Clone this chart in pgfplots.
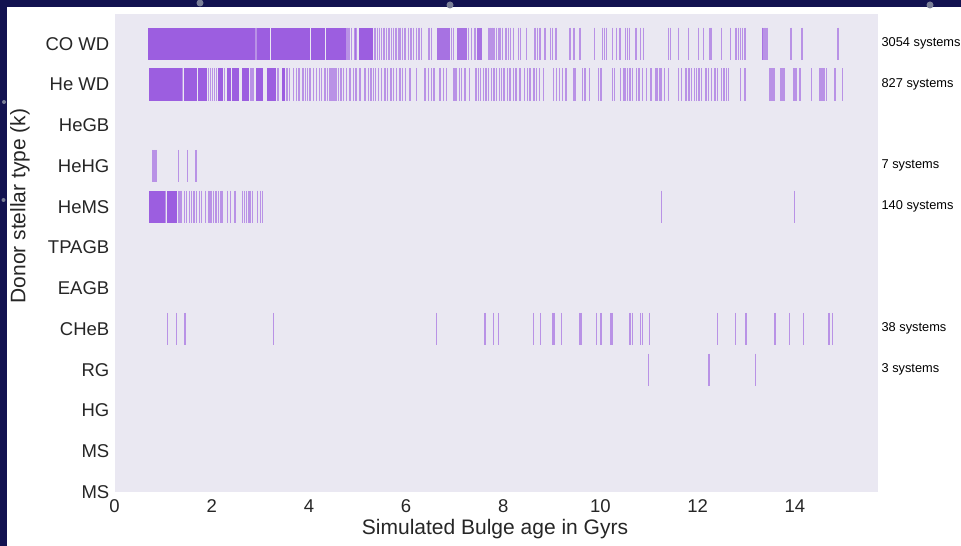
\documentclass[border=0pt]{standalone}
\usepackage{pgfplots}
\pgfplotsset{compat=1.18}
\usepackage{fontspec}
\setmainfont{Liberation Sans}
\definecolor{purp}{RGB}{156,94,224}
\definecolor{bgcol}{RGB}{234,232,242}
\definecolor{txtcol}{RGB}{38,38,38}
\definecolor{navy}{RGB}{18,18,80}
\definecolor{star}{RGB}{120,125,150}
\pgfplotsset{
  band/.style={draw=none, fill=purp},
  lband/.style={draw=none, fill=purp, fill opacity=0.85},
  ev/.style={only marks, mark=|, mark size=16.3pt, mark options={draw=purp, line width=1.4pt, opacity=0.62}},
}
\newcommand{\band}[4]{\addplot[band] coordinates {(#1,#3) (#2,#3) (#2,#4) (#1,#4)};}
\newcommand{\lband}[4]{\addplot[lband] coordinates {(#1,#3) (#2,#3) (#2,#4) (#1,#4)};}
\begin{document}
\begin{tikzpicture}
\useasboundingbox (0,0) rectangle (961pt,546pt);
\fill[navy] (0,0) rectangle (961pt,546pt);
\fill[white] (7pt,0) rectangle (961pt,538.5pt);
\fill[star] (200pt,543pt) circle (3.5pt);
\fill[star] (450pt,541pt) circle (3.5pt);
\fill[star] (930pt,541pt) circle (3.5pt);
\fill[star] (3.5pt,346pt) circle (2pt);
\fill[star] (4pt,444pt) circle (2pt);
\begin{axis}[
  at={(114.5pt,54pt)}, anchor=south west,
  width=763.5pt, height=478pt, scale only axis,
  xmin=0, xmax=15.71, ymin=0, ymax=11.736,
  axis background/.style={fill=bgcol},
  axis line style={draw=none},
  major tick length=0pt,
  xtick={0,2,4,6,8,10,12,14},
  ytick={0,1,2,3,4,5,6,7,8,9,10,11},
  yticklabels={MS,MS,HG,RG,CHeB,EAGB,TPAGB,HeMS,HeHG,HeGB,He WD,CO WD},
  ticklabel style={font=\fontsize{18.5}{20}\selectfont, text=txtcol},
  xticklabel style={anchor=base, inner sep=0pt, yshift=-20pt},
  yticklabel style={anchor=east, inner sep=0pt, xshift=-5pt},
  /pgf/number format/assume math mode=true,
  clip=false,
]
% ---------- CO WD (k=11) ----------
\band{0.689}{2.891}{10.6}{11.4}
\band{2.932}{3.200}{10.6}{11.4}
\band{3.230}{4.023}{10.6}{11.4}
\band{4.053}{4.321}{10.6}{11.4}
\band{4.352}{4.763}{10.6}{11.4}
\band{5.031}{5.319}{10.6}{11.4}
\lband{6.630}{6.903}{10.6}{11.4}
\lband{7.041}{7.247}{10.6}{11.4}
\lband{7.453}{7.556}{10.6}{11.4}
\addplot[ev] coordinates {
(2.910,11) (4.784,11) (4.825,11) (4.881,11) (4.949,11) (4.969,11) (5.360,11) (5.407,11) (5.449,11)
(5.498,11) (5.545,11) (5.601,11) (5.648,11) (5.704,11) (5.745,11) (5.792,11) (5.840,11)
(5.874,11) (5.922,11) (5.977,11) (6.045,11) (6.101,11) (6.156,11) (6.218,11) (6.265,11)
(6.321,11) (6.471,11) (6.527,11) (6.938,11) (6.971,11) (7.280,11) (7.350,11) (7.418,11)
(7.691,11) (7.726,11) (7.767,11) (7.809,11) (7.864,11) (7.911,11) (7.947,11) (7.988,11)
(8.056,11) (8.103,11) (8.152,11) (8.206,11) (8.309,11) (8.358,11) (8.481,11) (8.652,11)
(8.700,11) (8.755,11) (8.858,11) (8.975,11) (9.016,11) (9.084,11) (9.372,11) (9.455,11)
(9.578,11) (9.872,11) (10.037,11) (10.078,11) (10.128,11) (10.251,11) (10.333,11) (10.401,11)
(10.519,11) (10.560,11) (10.593,11) (10.730,11) (10.827,11) (10.881,11) (11.395,11) (11.444,11)
(11.601,11) (11.807,11) (12.012,11) (12.115,11) (12.253,11) (12.288,11) (12.494,11) (12.679,11)
(12.788,11) (12.835,11) (12.885,11) (12.926,11) (12.973,11) (13.337,11) (13.337,11) (13.364,11)
(13.395,11) (13.426,11) (13.920,11) (14.146,11) (14.887,11)
};
% ---------- He WD (k=10) ----------
\band{0.716}{1.389}{9.6}{10.4}
\band{1.424}{1.691}{9.6}{10.4}
\band{1.718}{1.903}{9.6}{10.4}
\band{2.130}{2.226}{9.6}{10.4}
\band{2.309}{2.397}{9.6}{10.4}
\band{2.424}{2.568}{9.6}{10.4}
\band{2.617}{2.774}{9.6}{10.4}
\band{2.905}{3.062}{9.6}{10.4}
\band{3.132}{3.323}{9.6}{10.4}
\band{3.453}{3.508}{9.6}{10.4}
\addplot[ev] coordinates {
(1.405,10) (1.934,10) (1.979,10) (2.021,10) (2.062,10) (2.103,10) (2.263,10) (2.802,10) (2.829,10)
(2.864,10) (3.364,10) (3.549,10) (3.597,10) (3.679,10) (3.749,10) (3.796,10) (3.879,10)
(3.926,10) (3.975,10) (4.023,10) (4.091,10) (4.160,10) (4.214,10) (4.263,10) (4.331,10)
(4.387,10) (4.434,10) (4.475,10) (4.516,10) (4.558,10) (4.605,10) (4.660,10) (4.708,10)
(4.778,10) (4.846,10) (4.914,10) (4.969,10) (5.051,10) (5.154,10) (5.222,10) (5.278,10)
(5.325,10) (5.374,10) (5.428,10) (5.498,10) (5.566,10) (5.621,10) (5.689,10) (5.737,10)
(5.807,10) (5.874,10) (5.922,10) (5.992,10) (6.080,10) (6.218,10) (6.389,10) (6.457,10)
(6.527,10) (6.574,10) (6.698,10) (6.765,10) (6.835,10) (6.971,10) (7.006,10) (7.041,10)
(7.095,10) (7.144,10) (7.212,10) (7.300,10) (7.438,10) (7.486,10) (7.535,10) (7.588,10)
(7.644,10) (7.691,10) (7.761,10) (7.809,10) (7.864,10) (7.918,10) (7.967,10) (8.014,10)
(8.082,10) (8.138,10) (8.206,10) (8.261,10) (8.344,10) (8.432,10) (8.494,10) (8.549,10)
(8.632,10) (8.687,10) (8.741,10) (8.823,10) (9.029,10) (9.099,10) (9.152,10) (9.222,10)
(9.290,10) (9.455,10) (9.481,10) (9.626,10) (9.681,10) (9.770,10) (9.955,10) (10.010,10)
(10.243,10) (10.284,10) (10.416,10) (10.469,10) (10.504,10) (10.551,10) (10.607,10) (10.654,10)
(10.745,10) (10.792,10) (10.868,10) (10.951,10) (11.039,10) (11.142,10) (11.177,10) (11.224,10)
(11.259,10) (11.313,10) (11.395,10) (11.601,10) (11.671,10) (11.759,10) (11.821,10) (11.877,10)
(11.930,10) (11.979,10) (12.027,10) (12.082,10) (12.171,10) (12.218,10) (12.288,10) (12.356,10)
(12.412,10) (12.494,10) (12.541,10) (12.597,10) (12.630,10) (12.885,10) (12.973,10) (13.473,10)
(13.508,10) (13.539,10) (13.570,10) (13.708,10) (13.735,10) (13.761,10) (13.790,10) (13.981,10)
(14.023,10) (14.105,10) (14.346,10) (14.502,10) (14.537,10) (14.568,10) (14.599,10) (14.654,10)
(14.825,10) (14.984,10)
};
% ---------- HeHG (k=8) ----------
\addplot[ev] coordinates {
(0.786,8) (0.813,8) (0.844,8) (0.868,8) (1.313,8) (1.498,8) (1.677,8)
};
% ---------- HeMS (k=7) ----------
\band{0.716}{1.040}{6.6}{7.4}
\band{1.070}{1.280}{6.6}{7.4}
\addplot[ev] coordinates {
(1.055,7) (1.313,7) (1.348,7) (1.383,7) (1.436,7) (1.486,7) (1.539,7) (1.588,7) (1.636,7)
(1.691,7) (1.745,7) (1.794,7) (1.877,7) (1.930,7) (1.965,7) (2.000,7) (2.033,7)
(2.088,7) (2.136,7) (2.191,7) (2.226,7) (2.321,7) (2.391,7) (2.479,7) (2.638,7)
(2.675,7) (2.716,7) (2.753,7) (2.788,7) (2.844,7) (2.938,7) (3.008,7) (3.049,7)
(11.251,7) (13.988,7)
};
% ---------- CHeB (k=4) ----------
\addplot[ev] coordinates {
(1.086,4) (1.280,4) (1.451,4) (3.267,4) (6.630,4) (7.623,4) (7.794,4) (7.897,4)
(8.617,4) (8.770,4) (9.016,4) (9.043,4) (9.202,4) (9.564,4) (9.599,4) (9.922,4)
(10.010,4) (10.210,4) (10.237,4) (10.607,4) (10.663,4) (10.827,4) (10.860,4) (11.004,4)
(12.403,4) (12.782,4) (12.994,4) (13.591,4) (13.885,4) (14.173,4) (14.702,4) (14.778,4)
};
% ---------- RG (k=3) ----------
\addplot[ev] coordinates {
(10.984,3) (12.233,3) (13.193,3)
};
% ---------- annotations ----------
\begin{scope}[every node/.style={anchor=mid west, inner sep=0pt, font=\fontsize{12.8}{14}\selectfont, text=black}]
\node at (axis cs:15.78,11) {3054 systems};
\node at (axis cs:15.78,10) {827 systems};
\node at (axis cs:15.78,8) {7 systems};
\node at (axis cs:15.78,7) {140 systems};
\node at (axis cs:15.78,4) {38 systems};
\node at (axis cs:15.78,3) {3 systems};
\end{scope}
\end{axis}
\node[rotate=90, inner sep=0pt, font=\fontsize{21}{24}\selectfont, text=txtcol] at (20pt,340pt) {Donor stellar type (k)};
\node[anchor=base, inner sep=0pt, font=\fontsize{21}{24}\selectfont, text=txtcol] at (495pt,11.3pt) {Simulated Bulge age in Gyrs};
\end{tikzpicture}
\end{document}
